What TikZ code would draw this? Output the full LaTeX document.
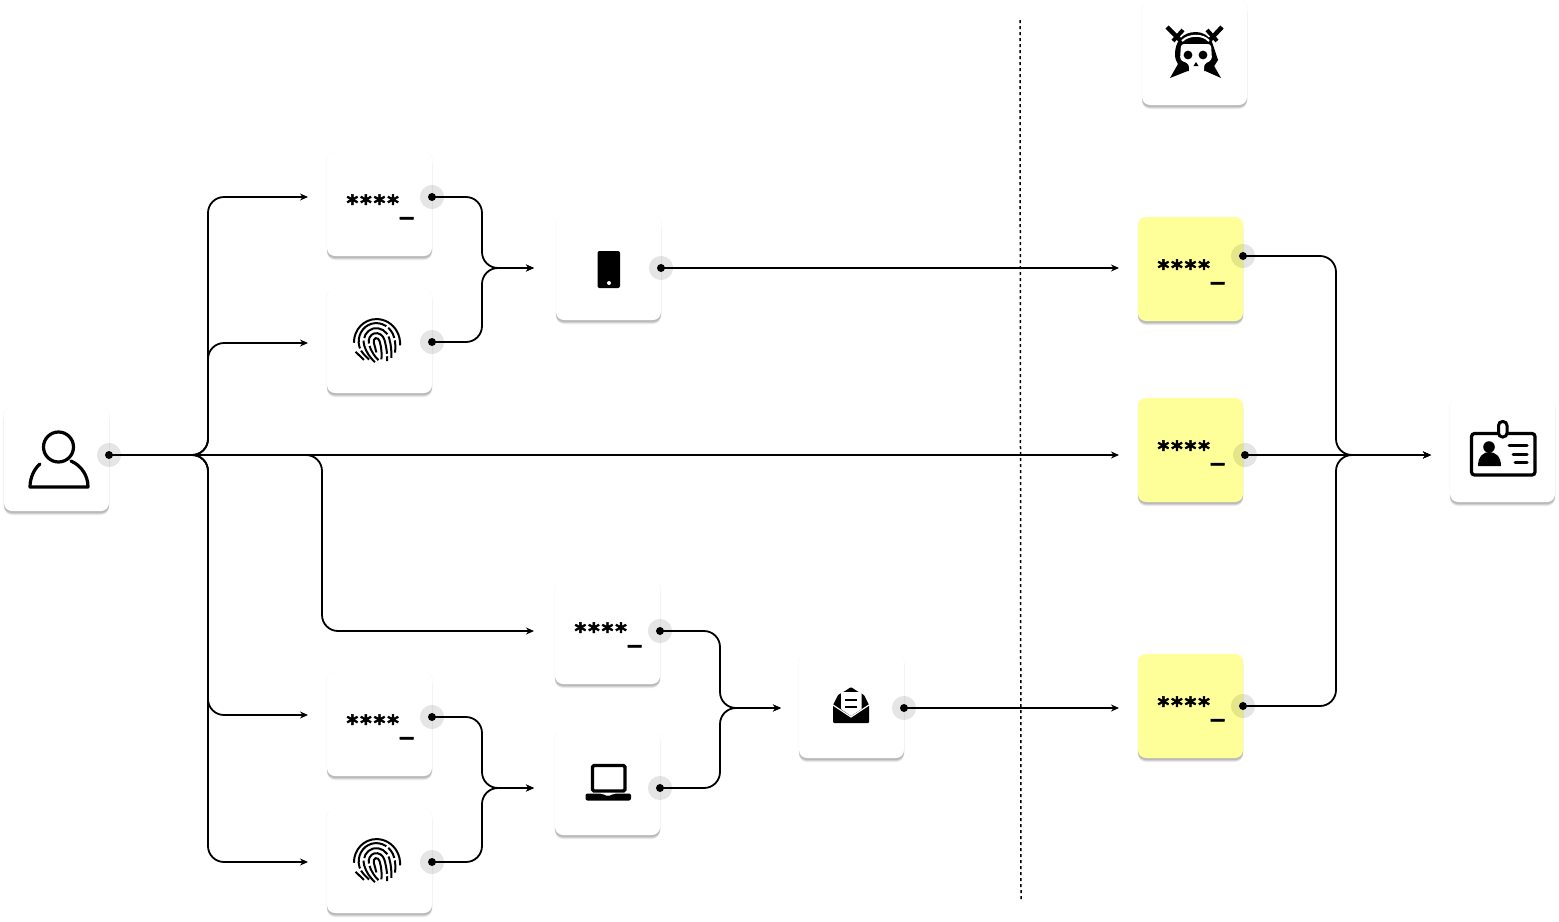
\documentclass[tikz,border=0pt]{standalone}
\usepackage{fontspec}
\setmonofont{DejaVu Sans Mono}[BoldFont={DejaVu Sans Mono Bold}]
\usetikzlibrary{arrows.meta,shadows}
\definecolor{pwyellow}{HTML}{FFFF99}
\tikzset{
  card/.style   = {rectangle, rounded corners=8bp, fill=white, minimum width=105bp,
                   minimum height=104bp, inner sep=0pt, outer sep=0pt,
                   general shadow={fill=black,opacity=.02,shadow scale=1.02,shadow yshift=-1bp},
                   general shadow={fill=black,opacity=.08,shadow yshift=-4bp},
                   general shadow={fill=black,opacity=.10,shadow yshift=-3bp},
                   general shadow={fill=black,opacity=.10,shadow yshift=-2bp}},
  pwcard/.style = {card, font=\fontsize{22.5bp}{26bp}\selectfont\ttfamily\bfseries,
                   text height=20bp, text depth=6bp},
  stolen/.style = {pwcard, fill=pwyellow},
  port/.style   = {circle, draw=black, draw opacity=.1, line width=8bp, minimum size=16bp,
                   inner sep=0pt, outer sep=0pt,
                   path picture={\fill[black] (path picture bounding box.center) circle[radius=4bp];}},
  wire/.style   = {-{Stealth[length=8bp,width=7bp]}, line width=1.8bp, rounded corners=16bp},
  icon/.style   = {line width=3.2bp, line cap=round, line join=round},
}
\newcommand{\pwmark}{\special{pdf:code 2 Tr 0.5 w}****\raisebox{-3bp}{\_}\special{pdf:code 0 Tr 1 w}}
\newcommand{\fprintmark}[1]{
  \begin{scope}[shift={#1}, yscale=-1, rotate=-15, line width=2bp]
    \draw (-3,-9) -- (-3,1) arc[start angle=180,end angle=0,x radius=3,y radius=4] .. controls (3,-6) and (2,-12) .. (0,-17);
    \draw[dash pattern=on 17bp off 2.5bp on 40bp off 2.5bp] (-3,-17) .. controls (-6,-12) and (-8,-6) .. (-8,1)
      arc[start angle=180,end angle=0,x radius=8,y radius=9] .. controls (8,-8) and (7,-14) .. (5,-20);
    \draw[dash pattern=on 25bp off 2.5bp on 30bp off 2.5bp] (-7,-18) .. controls (-10,-13) and (-13,-6) .. (-13,1)
      arc[start angle=180,end angle=0,x radius=13,y radius=14] .. controls (13,-6) and (12,-12) .. (10,-18);
    \draw[dash pattern=on 12bp off 2.5bp on 46bp off 2.5bp] (-12,-14) .. controls (-14,-10) and (-18,-5) .. (-18,1)
      arc[start angle=180,end angle=0,x radius=18,y radius=19] .. controls (18,-4) and (17,-8) .. (15,-14);
    \draw (165:23 and 24) arc[start angle=165,end angle=-20,x radius=23,y radius=24];
    \draw (-23,-3) .. controls (-21,-6) and (-20,-8) .. (-17,-13);
  \end{scope}
}
\begin{document}
\begin{tikzpicture}[x=1bp,y=-1bp]
  \useasboundingbox (0,0) rectangle (1559,921);
  % separator
  \draw[line width=1.5bp, dash pattern=on 3bp off 3bp] (1020,20) coordinate (sepa) -- (1021,900) coordinate (sepb);
  % cards
  \node[card] (user) at (56.5,459) {};
  \node[pwcard] (pwa) at (379.5,204) {\pwmark};
  \node[card] (fpa) at (379.5,341) {};
  \node[card] (phone) at (608.5,268) {};
  \node[pwcard] (pwc) at (607.5,632) {\pwmark};
  \node[card] (laptop) at (607.5,783) {};
  \node[pwcard] (pwb) at (379.5,724) {\pwmark};
  \node[card] (fpb) at (379.5,861) {};
  \node[card] (mail) at (851.5,706) {};
  \node[card] (pirate) at (1194.5,53) {};
  \node[stolen] (sta) at (1190.5,269) {\pwmark};
  \node[stolen] (stb) at (1190.5,450) {\pwmark};
  \node[stolen] (stc) at (1190.5,706) {\pwmark};
  \node[card] (badge) at (1502.5,450) {};
  % ports
  \node[port] (userp) at (109,455) {};
  \node[port] (pwap) at (432,197) {};
  \node[port] (fpap) at (432,342) {};
  \node[port] (phonep) at (661,268) {};
  \node[port] (pwcp) at (660,631) {};
  \node[port] (laptopp) at (660,788) {};
  \node[port] (pwbp) at (432,717) {};
  \node[port] (fpbp) at (432,862) {};
  \node[port] (mailp) at (904,708) {};
  \node[port] (stap) at (1243,256) {};
  \node[port] (stbp) at (1245,455) {};
  \node[port] (stcp) at (1243,706) {};
  % wire ends and buses
  \coordinate (ipwa) at (308,197);
  \coordinate (ifpa) at (308,343);
  \coordinate (ipwb) at (308,715);
  \coordinate (ifpb) at (308,862);
  \coordinate (ipwc) at (534,631);
  \coordinate (iphone) at (534,268);
  \coordinate (ilaptop) at (534,788);
  \coordinate (imail) at (781,708);
  \coordinate (ista) at (1119,268);
  \coordinate (istb) at (1119,455);
  \coordinate (istc) at (1119,708);
  \coordinate (ibadge) at (1431,455);
  \coordinate (busu) at (208,455);
  \coordinate (busc) at (322,455);
  \coordinate (busf) at (482,268);
  \coordinate (busl) at (482,788);
  \coordinate (busm) at (720,708);
  \coordinate (buss) at (1336,455);
  % wires
  \foreach \t in {ipwa,ifpa,ipwb,ifpb} \draw[wire] (userp.center) -- (busu) |- (\t);
  \draw[wire] (userp.center) -- (busc) |- (ipwc);
  \draw[wire] (userp.center) -- (istb);
  \draw[wire] (pwap.center) -| (busf) -- (iphone);
  \draw[wire] (fpap.center) -| (busf) -- (iphone);
  \draw[wire] (pwbp.center) -| (busl) -- (ilaptop);
  \draw[wire] (fpbp.center) -| (busl) -- (ilaptop);
  \draw[wire] (pwcp.center) -| (busm) -- (imail);
  \draw[wire] (laptopp.center) -| (busm) -- (imail);
  \draw[wire] (phonep.center) -- (ista);
  \draw[wire] (mailp.center) -- (istc);
  \draw[wire] (stap.center) -| (buss) -- (ibadge);
  \draw[wire] (stcp.center) -| (buss) -- (ibadge);
  \draw[wire] (stbp.center) -- (ibadge);
  % person
  \draw[icon] (58.5,447) circle[radius=15];
  \draw[icon] (40,464) .. controls (34,469) and (30,478) .. (30,487) -- (88,487)
    .. controls (88,476) and (82,466) .. (71,461);
  % fingerprints
  \fprintmark{(377,343)}
  \fprintmark{(377,863)}
  % phone
  \fill[rounded corners=2bp] (597.5,251) rectangle (620,288);
  \fill[white] (609,283) circle[radius=2];
  % laptop
  \draw[line width=3.4bp, rounded corners=1.5bp] (592.5,765.5) rectangle (625,791);
  \fill[rounded corners=2bp] (585.5,793.5) -- (602,793.5) -- (604,795.5) -- (612,795.5) -- (614,793.5)
    -- (631,793.5) -- (631,800.5) -- (585.5,800.5) -- cycle;
  % mail
  \fill[rounded corners=1bp] (833,705) -- (838,695) -- (845,691) -- (851,687) -- (857,691) -- (864,695)
    -- (869,705) -- (869,723) -- (833,723) -- cycle;
  \fill[white] (841,692) -- (861.5,692) -- (861.5,709) -- (851,716) -- (841,709) -- cycle;
  \draw[white, line width=1.2bp] (833,705) -- (851,717) -- (869,705);
  \draw[line width=2.6bp] (845,700) -- (857,700) (845,707) -- (857,707);
  % pirate
  \draw[line width=4.5bp] (1167,27) -- (1182,42) (1222,27) -- (1208,42);
  \draw[line width=4bp] (1183,30) -- (1173,41) (1207,30) -- (1217,41);
  \fill (1178,64) -- (1170,78) -- (1190,70) -- cycle;
  \fill (1213,64) -- (1221,78) -- (1203,70) -- cycle;
  \fill (1196,32) .. controls (1182,32) and (1175,42) .. (1175,54) .. controls (1175,62) and (1179,67) .. (1186,71)
    -- (1205,71) -- (1213,68) -- (1218,60) -- (1212,42) .. controls (1209,36) and (1203,32) .. (1196,32) -- cycle;
  \draw[white, line width=2bp] (1182,41) .. controls (1189,34) and (1203,34) .. (1209,41);
  \fill[white, rounded corners=3bp] (1181,44) -- (1211,44) -- (1212,60) -- (1204,64) -- (1204,75) -- (1189,75) -- (1189,64) -- (1180,60) -- cycle;
  \fill (1188,55) circle[radius=4.4] (1203,55) circle[radius=4.4];
  \fill (1196,62) -- (1198.5,66) -- (1193.5,66) -- cycle;
  % badge
  \draw[line width=3.2bp, rounded corners=3bp] (1471.5,433.5) rectangle (1535,475);
  \draw[line width=3bp, fill=white, rounded corners=4bp] (1498.5,421.5) rectangle (1507,437);
  \fill (1489,447) circle[radius=5.8];
  \fill (1478,466) .. controls (1478,456) and (1484,452) .. (1489,452) .. controls (1495,452) and (1501,456) .. (1501,466) -- cycle;
  \draw[line width=3bp, line cap=round] (1509,445) -- (1527,445) (1513,454) -- (1527,454) (1515,462) -- (1527,462);
\end{tikzpicture}
\end{document}
